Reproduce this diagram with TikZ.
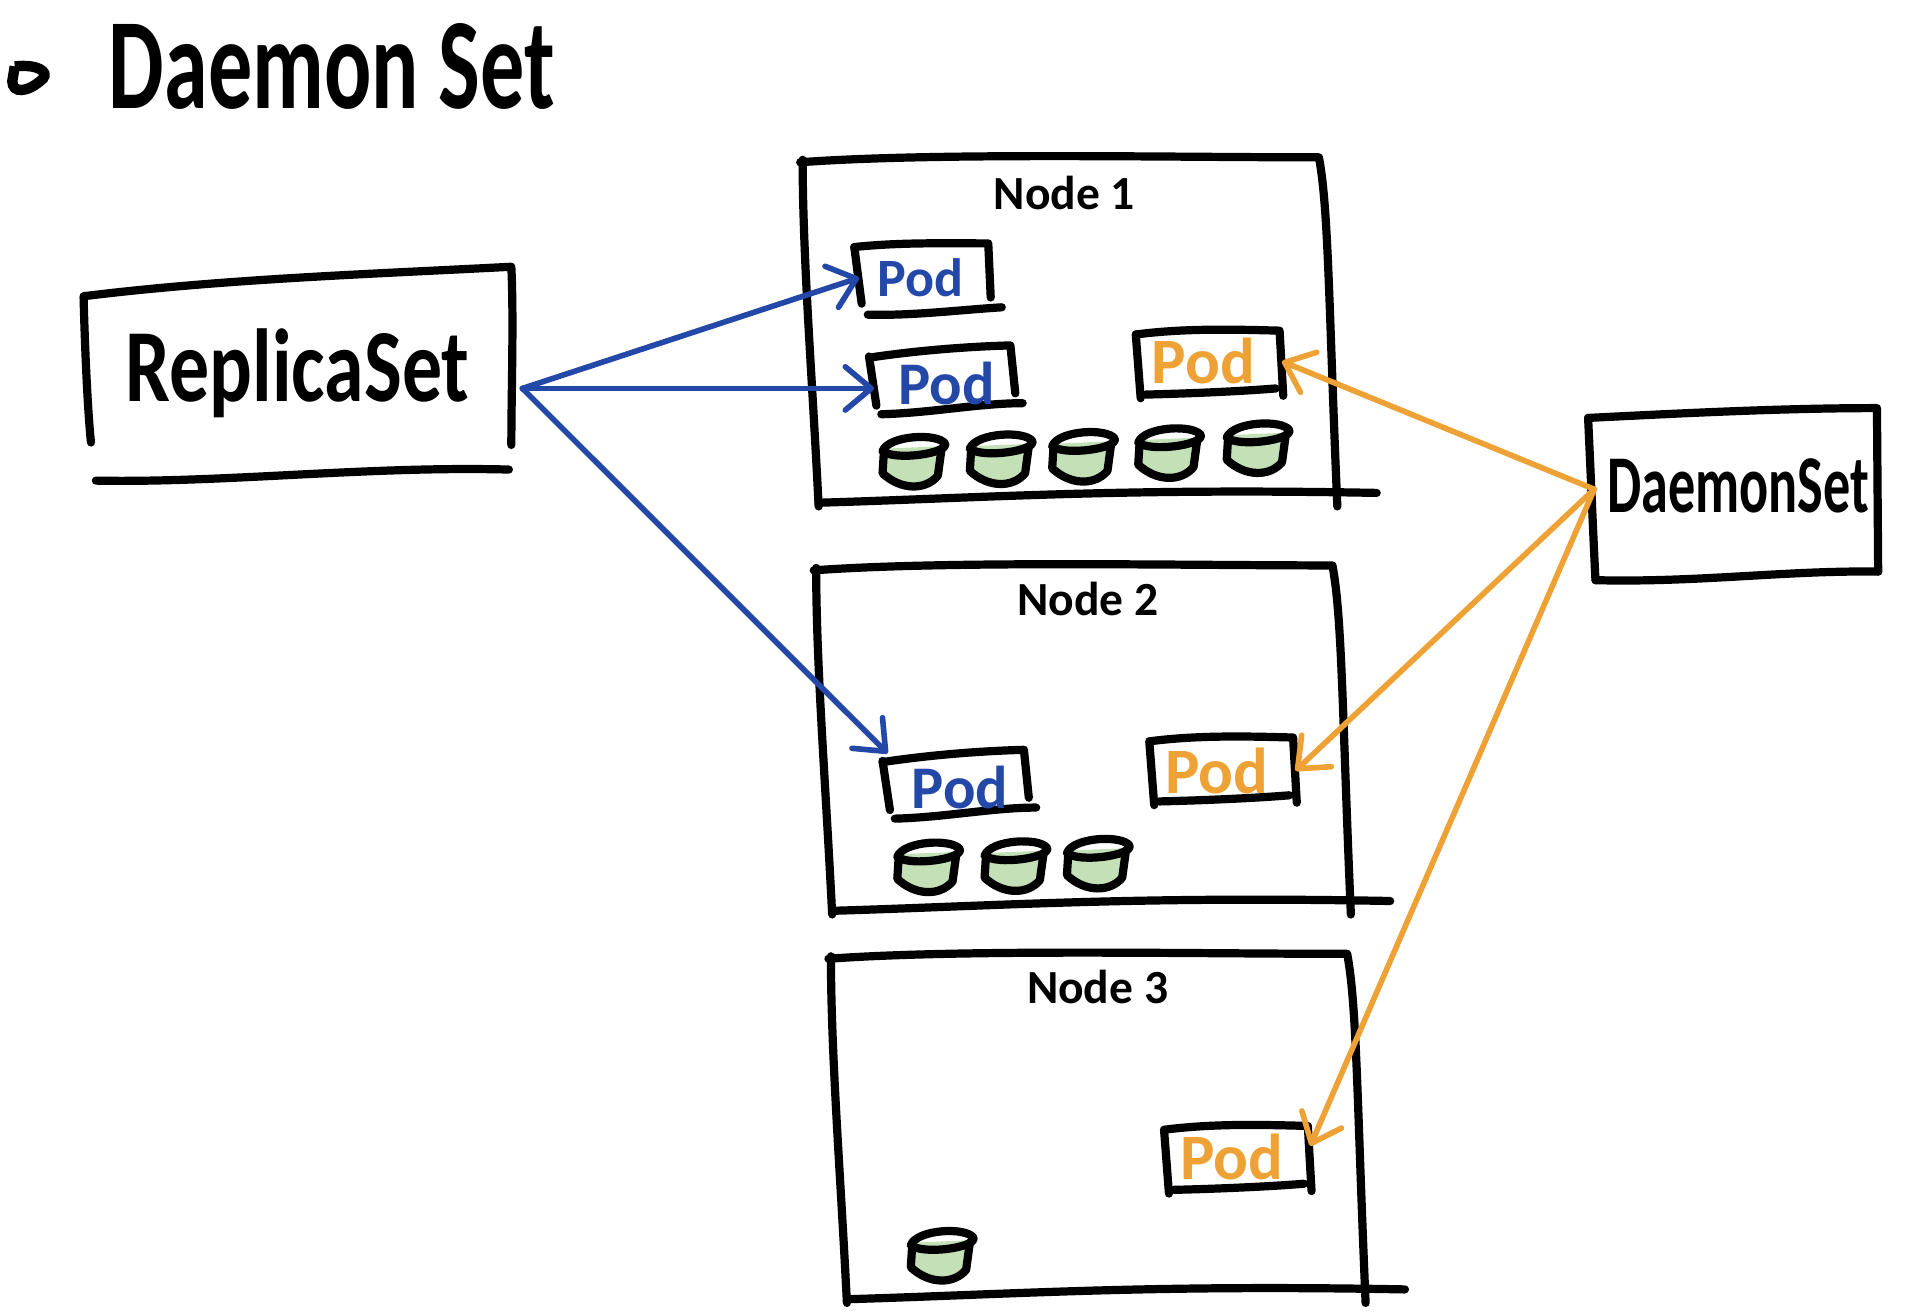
\documentclass[tikz,border=0pt]{standalone}
\usepackage{fontspec}
\setmainfont{Carlito}
\usepackage{tikz}
\usetikzlibrary{arrows.meta}

\definecolor{podblue}{HTML}{2448A8}
\definecolor{podorange}{HTML}{EEA236}
\definecolor{diskgreen}{HTML}{C3E0B6}

\tikzset{
  sketch/.style={line width=1.9pt, line cap=round, line join=round},
  blink/.style={podblue, line width=1.3pt, line cap=round, -{Straight Barb[length=6pt,width=10pt,round]}},
  olink/.style={podorange, line width=1.3pt, line cap=round, -{Straight Barb[length=6pt,width=10pt,round]}},
  podtext/.style={font=\bfseries\fontsize{14}{14}\selectfont, inner sep=0pt, outer sep=0pt, minimum width=33.5pt, minimum height=16pt},
  orangetext/.style={podtext, podorange, font=\bfseries\fontsize{15}{15}\selectfont, minimum width=36.4pt},
  nodetext/.style={font=\bfseries\fontsize{11}{11}\selectfont, inner sep=0pt},
}

\newcommand{\nodebox}[1]{
  \draw[sketch,shift={(#1)}] (0,2) .. controls (110,-6) and (300,-2) .. (422,-2)
    .. controls (430,40) and (430,120) .. (437,282);
  \draw[sketch,shift={(#1)}] (2,0) .. controls (2,80) and (10,180) .. (15,282);
  \draw[sketch,shift={(#1)}] (15,279) .. controls (150,275) and (260,267) .. (469,271);
}
\newcommand{\podbluebox}[1]{
  \draw[sketch,shift={(#1)}] (0,0) -- (6,40);
  \draw[sketch,shift={(#1)}] (0,1) .. controls (40,-5) and (80,-8) .. (115,-9) -- (119,30);
  \draw[sketch,shift={(#1)}] (10,47) .. controls (50,46) and (90,38) .. (125,38);
}
\newcommand{\podorangebox}[1]{
  \draw[sketch,shift={(#1)}] (0,0) -- (4,52);
  \draw[sketch,shift={(#1)}] (1,0) .. controls (40,-5) and (80,-4) .. (117,-3) -- (120,50);
  \draw[sketch,shift={(#1)}] (8,49) .. controls (50,48) and (90,46) .. (114,44);
}
\newcommand{\disk}[1]{
  \fill[diskgreen,shift={(#1)}] (-24,-10) -- (24,-12) -- (22,12) .. controls (10,24) and (-10,24) .. (-24,11) -- cycle;
  \draw[sketch,shift={(#1)}] (-24,-6) -- (-25,10) .. controls (-10,24) and (10,24) .. (20,12) -- (23,-10);
  \draw[sketch,shift={(#1)}] (-25,-8) .. controls (-20,-21) and (20,-23) .. (26,-14) .. controls (28,-6) and (-15,0) .. (-25,-8);
}

\begin{document}
\begin{tikzpicture}[x=0.01cm,y=-0.01cm]
\useasboundingbox (0,0) rectangle (1571,1069);

% title
\draw[line width=2.4pt] (12,54) .. controls (30,52) and (40,58) .. (35,64) .. controls (22,76) and (10,76) .. (10,66) -- (12,54);
\node[font=\bfseries\fontsize{30}{30}\selectfont, xscale=0.68] (title) at (270,54) {Daemon Set};

% left and right controllers
\draw[sketch] (68,242) .. controls (69,280) and (71,330) .. (74,360);
\draw[sketch] (68,241) .. controls (181,227) and (301,223) .. (416,217) .. controls (418,260) and (416,320) .. (416,362);
\draw[sketch] (78,391) .. controls (181,393) and (301,379) .. (414,382);
\node[font=\bfseries\fontsize{24}{24}\selectfont, xscale=0.77] (replicaset) at (242,304) {ReplicaSet};
\coordinate (rsport) at (425,316);

\draw[sketch] (1292,340) .. controls (1372,336) and (1452,332) .. (1527,332) -- (1528,465);
\draw[sketch] (1292,340) .. controls (1294,382) and (1296,432) .. (1298,472);
\draw[sketch] (1298,472) .. controls (1382,474) and (1452,464) .. (1528,465);
\node[font=\bfseries\fontsize{19}{19}\selectfont, xscale=0.66] (daemonset) at (1414,395) {DaemonSet};
\coordinate (dsport) at (1297,398);

% nodes
\nodebox{651,130}
\nodebox{662,462}
\nodebox{674,778}
\node[nodetext] (node1) at (866,157) {Node 1};
\node[nodetext] (node2) at (885,487) {Node 2};
\node[nodetext] (node3) at (893,803) {Node 3};

% pods
\draw[sketch] (695,201) .. controls (732,197) and (772,198) .. (804,198) -- (806,242);
\draw[sketch] (695,201) -- (701,247);
\draw[sketch] (706,256) .. controls (742,257) and (782,252) .. (815,250);
\podbluebox{707,290}
\podbluebox{718,619}
\podorangebox{924,272}
\podorangebox{935,603}
\podorangebox{947,919}

\node[podtext,podblue,font=\bfseries\fontsize{12.5}{12.5}\selectfont,minimum width=28.5pt] (pod1) at (749,226) {Pod};
\node[podtext,podblue] (pod2) at (770,312) {Pod};
\node[podtext,podblue] (pod3) at (781,641) {Pod};
\node[orangetext] (pod4) at (979,294) {Pod};
\node[orangetext] (pod5) at (990,627) {Pod};
\node[orangetext] (pod6) at (1002,941) {Pod};

% disks
\foreach \x/\y in {743/375, 814/373, 881/371, 951/368, 1023/364, 755/705, 826/704, 893/702, 766/1021}
  \disk{\x,\y};

% arrows
\draw[blink] (rsport) -- (pod1.west);
\draw[blink] (rsport) -- (pod2.west |- rsport);
\draw[blink] (rsport) -- (pod3.north west);
\draw[olink] (dsport) -- (pod4.east);
\draw[olink] (dsport) -- (pod5.east);
\draw[olink] (dsport) -- ([yshift=2.5pt]pod6.east);
\end{tikzpicture}
\end{document}
